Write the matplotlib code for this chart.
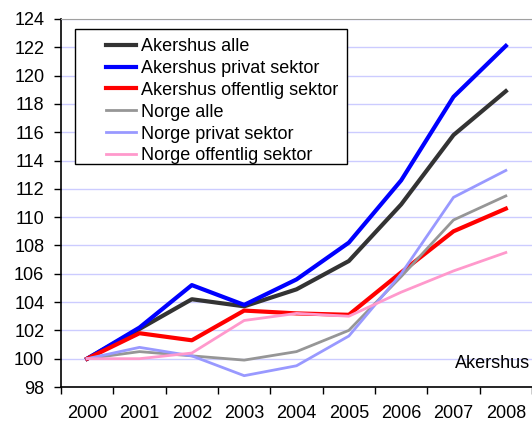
import numpy as np
import matplotlib.pyplot as plt
from matplotlib.patches import Rectangle

plt.rcParams['font.family'] = ['Liberation Sans', 'DejaVu Sans']

years = ['2000', '2001', '2002', '2003', '2004', '2005', '2006', '2007', '2008']

akershus_alle = [100, 102.1, 104.2, 103.7, 104.9, 106.9, 110.9, 115.8, 118.9]
akershus_privat = [100, 102.2, 105.2, 103.8, 105.6, 108.2, 112.6, 118.5, 122.1]
akershus_offentlig = [100, 101.8, 101.3, 103.4, 103.2, 103.1, 106.1, 109.0, 110.6]
norge_alle = [100, 100.5, 100.2, 99.9, 100.5, 102.0, 105.8, 109.8, 111.5]
norge_privat = [100, 100.8, 100.2, 98.8, 99.5, 101.6, 106.0, 111.4, 113.3]
norge_offentlig = [100, 100.0, 100.4, 102.7, 103.2, 103.0, 104.7, 106.2, 107.5]

W, H = 532, 423
fig = plt.figure(figsize=(W / 100, H / 100), dpi=100)
ax = fig.add_axes([61 / W, 36 / H, 471 / W, 368 / H])

x = np.arange(len(years))
ax.plot(x, akershus_alle, color='#333333', lw=3, label='Akershus alle')
ax.plot(x, akershus_privat, color='#0000ff', lw=3, label='Akershus privat sektor')
ax.plot(x, akershus_offentlig, color='#ff0000', lw=3, label='Akershus offentlig sektor')
ax.plot(x, norge_alle, color='#969696', lw=2, label='Norge alle')
ax.plot(x, norge_privat, color='#9999ff', lw=2, label='Norge privat sektor')
ax.plot(x, norge_offentlig, color='#ff99cc', lw=2, label='Norge offentlig sektor')

ax.set_xlim(-0.5, len(years) - 0.5)
ax.set_ylim(98, 124)
ax.set_yticks(np.arange(98, 125, 2))
ax.set_xticks(x)
ax.set_xticklabels(years)
ax.set_xticks(np.arange(-0.5, len(years), 1), minor=True)
ax.tick_params(axis='x', which='major', length=0, pad=13, labelsize=13)
ax.tick_params(axis='x', which='minor', length=5, width=1)
ax.tick_params(axis='y', length=5, width=1, labelsize=13, pad=7)
ax.grid(axis='y', color='#ccccff', lw=1)
ax.set_axisbelow(True)

ax.spines['right'].set_visible(False)
ax.spines['top'].set_color('#a0a0a0')
ax.spines['left'].set_linewidth(1.2)
ax.spines['bottom'].set_linewidth(1.2)

# legend without its own frame, box drawn separately (wider side padding like excel)
leg = ax.legend(loc='upper left', bbox_to_anchor=(97 / W, 1 - 29 / H),
                bbox_transform=fig.transFigure, fontsize=13, frameon=False,
                handlelength=1.67, borderpad=0, labelspacing=0.27, handletextpad=0.25)
leg.set_zorder(6)
box = Rectangle((75 / W, 1 - 164 / H), 272 / W, 135 / H, transform=fig.transFigure,
                facecolor='white', edgecolor='black', lw=1, zorder=5, clip_on=False)
ax.add_patch(box)

ax.text(0.995, 0.065, 'Akershus', transform=ax.transAxes, ha='right', va='center', fontsize=13)

fig.savefig('out.png', dpi=100)
